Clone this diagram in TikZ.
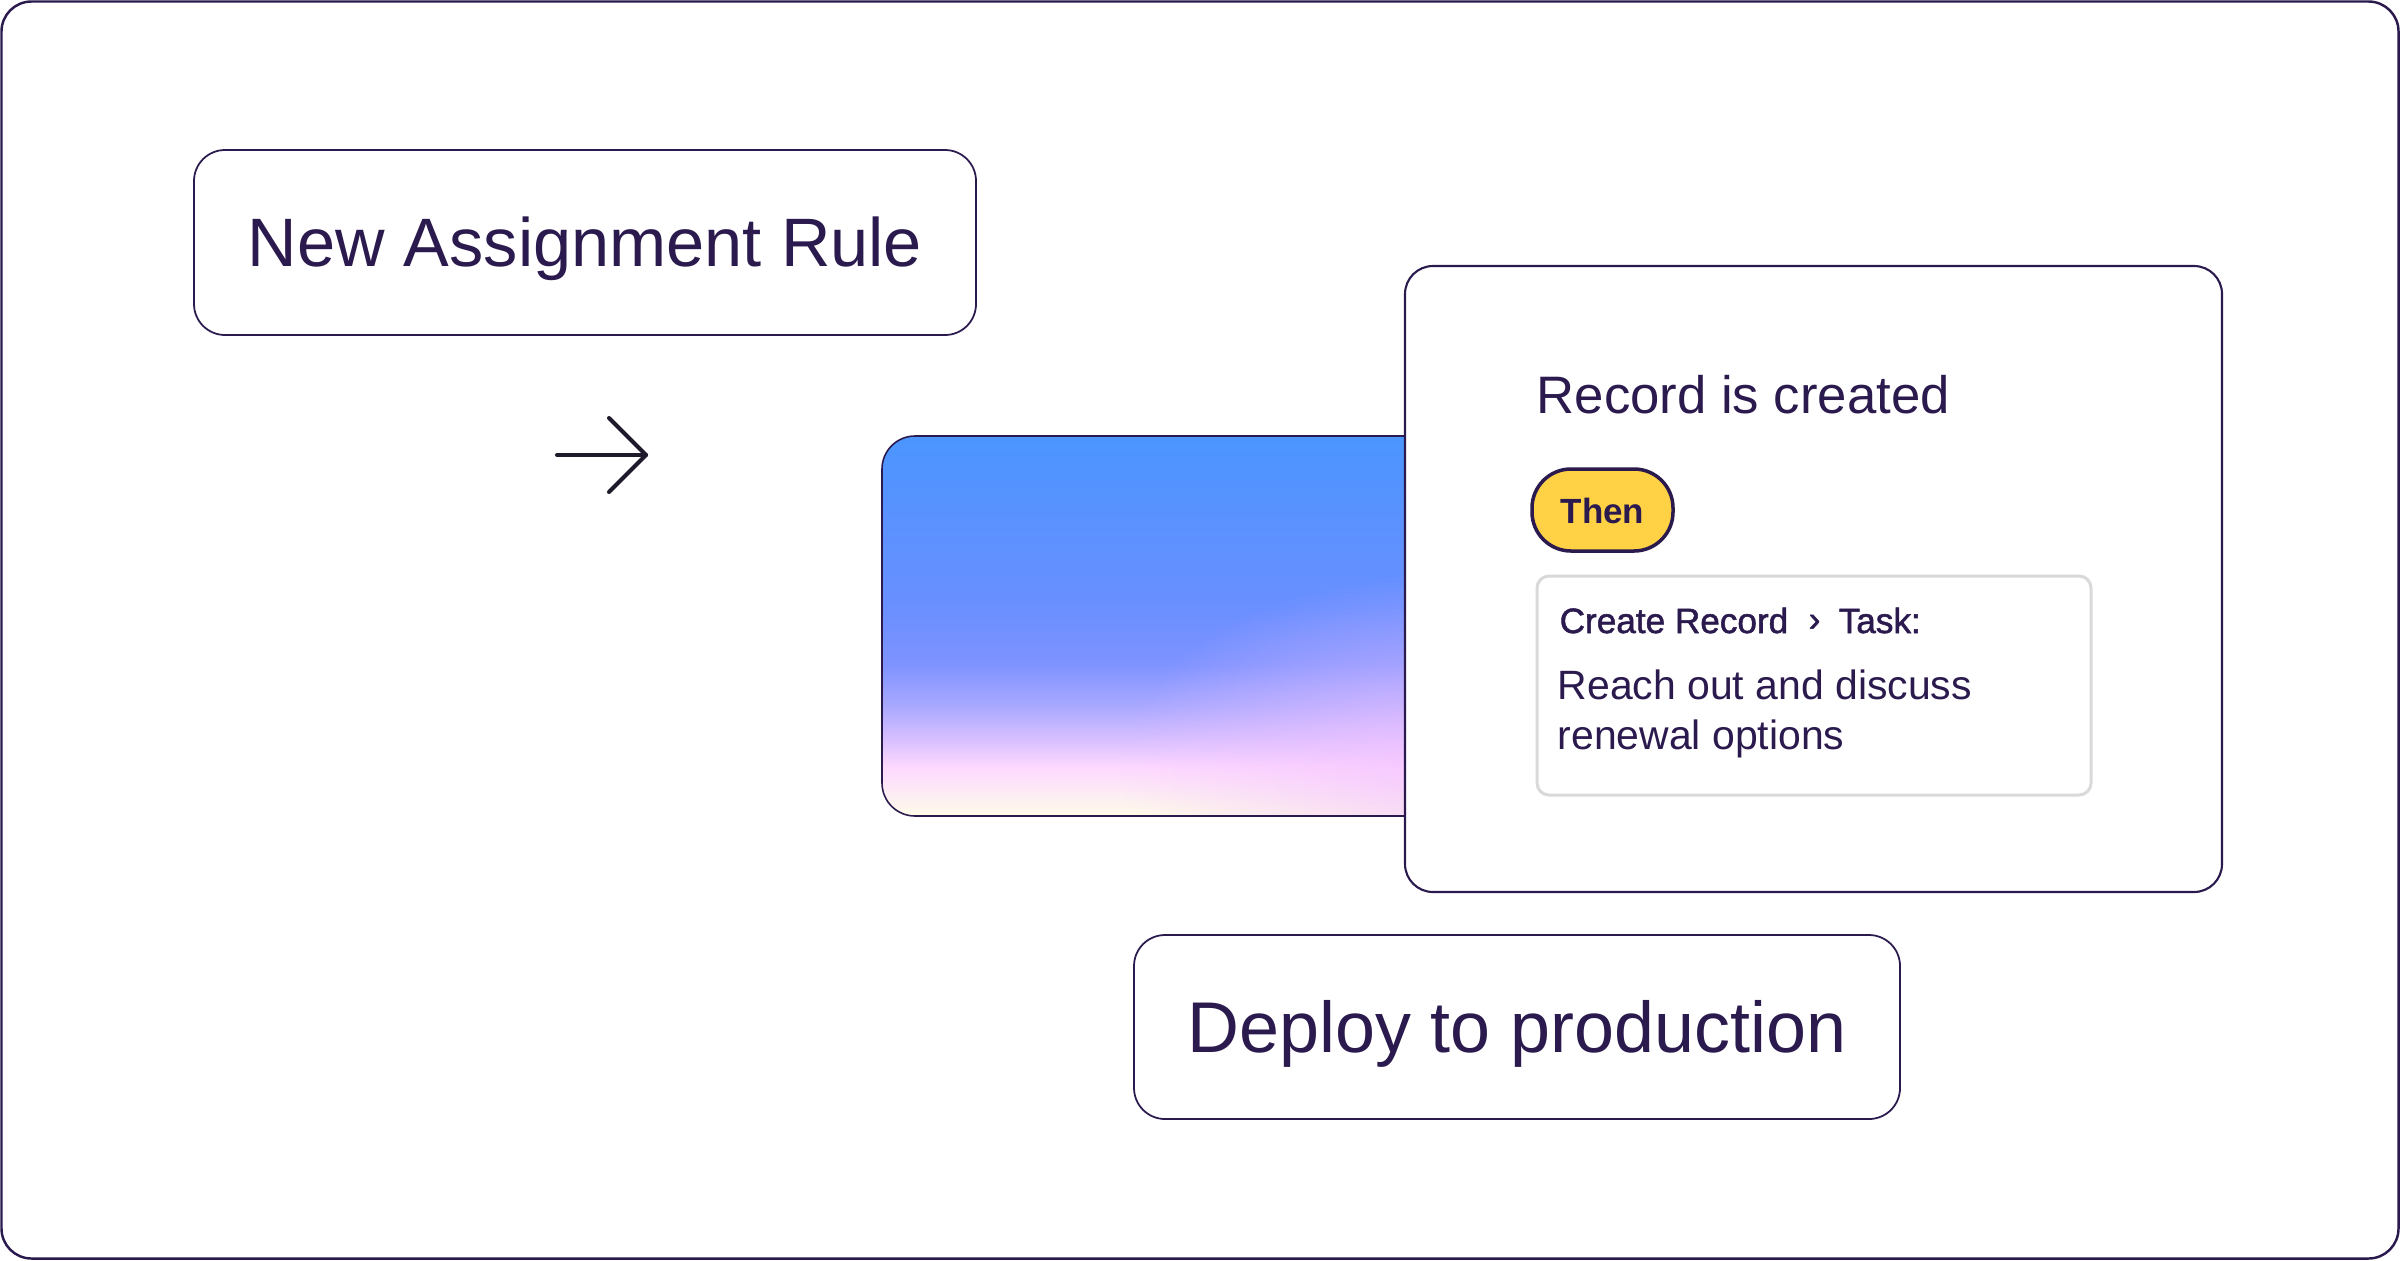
\documentclass[tikz,border=0pt]{standalone}
\usepackage{fontspec}
\setmainfont{Liberation Sans}
\newfontfamily\medfont{Liberation Sans}[FakeBold=1.5]
\usetikzlibrary{fadings}
\definecolor{ink}{HTML}{2B1A4E}
\definecolor{arrowc}{HTML}{1F1A2B}
\definecolor{pillc}{HTML}{FFD246}
\definecolor{lightgray}{HTML}{D9D9D9}
\definecolor{glowc}{HTML}{F4C2FF}
\definecolor{g0}{HTML}{FEFCE8}
\definecolor{g1}{HTML}{FDE9F6}
\definecolor{g2}{HTML}{FDD8FF}
\definecolor{g3}{HTML}{D8C0FF}
\definecolor{g4}{HTML}{A9A8FF}
\definecolor{g5}{HTML}{7E93FF}
\definecolor{g6}{HTML}{6A8FFF}
\definecolor{g7}{HTML}{4B95FF}
\pgfdeclareverticalshading{cardgrad}{100bp}{color(0bp)=(g0); color(25bp)=(g0); color(28.5bp)=(g1); color(31.5bp)=(g2); color(35bp)=(g3); color(39.5bp)=(g4); color(45bp)=(g5); color(52.5bp)=(g6); color(75bp)=(g7); color(100bp)=(g7)}
\tikzfading[name=softglow, inner color=transparent!0, outer color=transparent!100]
\tikzset{
  txt/.style={inner sep=0pt, text=ink},
  bigbox/.style={draw=ink, line width=0.5pt, rounded corners=3.1mm, fill=white, inner sep=0pt, text=ink, text depth=0pt},
  cardbox/.style={draw=ink, line width=0.6pt, rounded corners=2.8mm, fill=white, inner sep=0pt},
  innerbox/.style={draw=lightgray, line width=0.85pt, rounded corners=1.2mm, fill=white, inner sep=0pt},
  pill/.style={draw=ink, line width=1pt, rounded corners=3.9mm, fill=pillc, inner sep=0pt, text=ink, text depth=0pt},
  arrowline/.style={draw=arrowc, line width=1.15pt, line cap=round, line join=round},
}
\begin{document}
\begin{tikzpicture}[x=0.1mm, y=-0.1mm]
\useasboundingbox (0,0) rectangle (2400,1260);
\fill[white] (0,0) rectangle (2400,1260);
% outer frame
\draw[ink, line width=0.7pt, rounded corners=3mm] (1.5,1.5) rectangle (2398.5,1258.5);

% New Assignment Rule
\node[bigbox, minimum width=78.2mm, minimum height=18.5mm, text height=13.9pt,
  font=\fontsize{19.5pt}{22pt}\selectfont] (nar) at (585,242.5) {New Assignment Rule};

% arrow
\coordinate (aS) at (557,455);
\coordinate (aE) at (646,455);
\coordinate (aT) at (609,418);
\coordinate (aB) at (609,492);
\draw[arrowline] (aS) -- (aE);
\draw[arrowline] (aT) -- (aE) -- (aB);

% gradient panel
\shade[shading=cardgrad, rounded corners=3.3mm] (882,436) rectangle (1440,816);
\begin{scope}
  \clip[rounded corners=3.3mm] (882,436) rectangle (1440,816);
  \fill[glowc, path fading=softglow, fill opacity=0.7] (1440,765) ellipse [x radius=32mm, y radius=19mm];
\end{scope}
\draw[ink, line width=0.45pt, rounded corners=3.3mm] (1440,436) -- (882,436) -- (882,816) -- (1440,816);

% card
\node[cardbox, minimum width=81.7mm, minimum height=62.6mm] (card) at (1813.5,579) {};
\node[txt, anchor=base west, font=\fontsize{15pt}{17pt}\selectfont] (rec) at (1536,413) {Record is created};
\node[pill, minimum width=14.1mm, minimum height=8.2mm, text height=7.68pt,
  font=\fontsize{9.96pt}{12pt}\selectfont\bfseries] (then) at (1602.5,510) {Then};
\node[innerbox, minimum width=55.4mm, minimum height=21.9mm] (inner) at (1814,685.5) {};
\node[txt, anchor=base west, font=\fontsize{10pt}{12pt}\selectfont\medfont] (crt) at (1559,633) {Create Record};
\node[txt, anchor=base west, font=\fontsize{10pt}{12pt}\selectfont\medfont] (chev) at (1808,631) {›};
\node[txt, anchor=base west, font=\fontsize{10pt}{12pt}\selectfont\medfont] (task) at (1838,633) {Task:};
\node[txt, anchor=base west, font=\fontsize{11.65pt}{13.7pt}\selectfont] (reach1) at (1557,699) {Reach out and discuss};
\node[txt, anchor=base west, font=\fontsize{11.65pt}{13.7pt}\selectfont] (reach2) at (1557,749) {renewal options};

% Deploy
\node[bigbox, minimum width=76.6mm, minimum height=18.4mm, text height=14.6pt,
  font=\fontsize{20.45pt}{24pt}\selectfont] (deploy) at (1517,1027) {Deploy to production};
\end{tikzpicture}
\end{document}
